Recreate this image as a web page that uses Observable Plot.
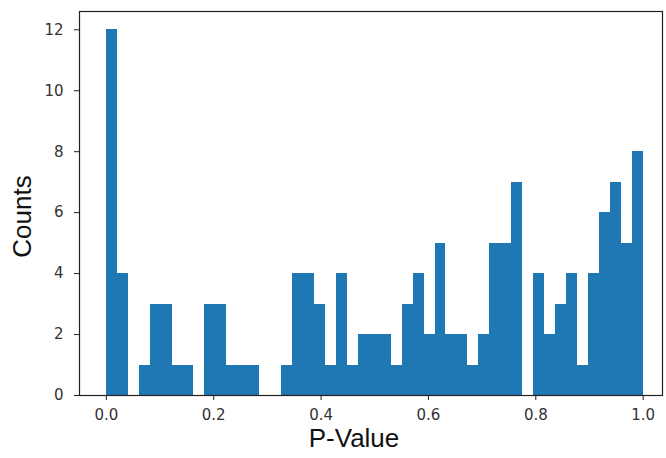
<!DOCTYPE html>
<html>
<head>
<meta charset="utf-8">
<script src="https://cdn.jsdelivr.net/npm/d3@7"></script>
<script src="https://cdn.jsdelivr.net/npm/@observablehq/plot@0.6"></script>
<style>
  html, body { margin: 0; padding: 0; background: #fff; }
</style>
</head>
<body>
<div id="chart"></div>
<script>
// Histogram counts, one per bin (49 equal bins spanning the p-value range 0..1)
const counts = [12,4,0,1,3,3,1,1,0,3,3,1,1,1,0,0,1,4,4,3,1,4,1,2,2,2,1,3,4,2,5,2,2,1,2,5,5,7,0,4,2,3,4,1,4,6,7,5,8];
const binStart = 0;
const binEnd = 1;
const xTicks = [0, 0.2, 0.4, 0.6, 0.8, 1.0];
const yTicks = [0, 2, 4, 6, 8, 10, 12];
const xLabel = "P-Value";
const yLabel = "Counts";

const binWidth = (binEnd - binStart) / counts.length;
const bins = counts.map((c, i) => ({
  x1: binStart + i * binWidth,
  x2: binStart + (i + 1) * binWidth,
  count: c
}));

const tickFont = "DejaVu Sans";
const labelFont = "Liberation Sans, Arial, sans-serif";

const chart = Plot.plot({
  width: 666,
  height: 458,
  marginLeft: 79,
  marginRight: 4,
  marginTop: 11,
  marginBottom: 63,
  style: { background: "#fff", overflow: "visible" },
  x: { domain: [-0.05, 1.036] },
  y: { domain: [0, 12.6] },
  marks: [
    Plot.rect(bins.filter(d => d.count > 0), {
      x1: "x1", x2: "x2", y1: 0, y2: "count",
      fill: "#1f77b4", inset: 0, shapeRendering: "crispEdges"
    }),
    Plot.axisX({
      ticks: xTicks, tickFormat: d3.format(".1f"),
      tickSize: 5, tickPadding: 9, fontSize: 15,
      fontFamily: tickFont, fill: "#333", stroke: "#222", label: null
    }),
    Plot.axisY({
      ticks: yTicks, tickFormat: d3.format("d"),
      tickSize: 5, tickPadding: 11, fontSize: 15,
      fontFamily: tickFont, fill: "#333", stroke: "#222", label: null
    }),
    Plot.frame({ stroke: "#222", strokeWidth: 1.2 }),
    Plot.text([yLabel], {
      frameAnchor: "left", dx: -57, dy: 13, rotate: -90,
      text: d => d, fontSize: 26, fontFamily: labelFont,
      fill: "#111", lineAnchor: "middle", textAnchor: "middle"
    }),
    Plot.text([xLabel], {
      frameAnchor: "bottom", dx: -17, dy: 43,
      text: d => d, fontSize: 26, fontFamily: labelFont,
      fill: "#111", lineAnchor: "middle", textAnchor: "middle"
    })
  ]
});

document.getElementById("chart").appendChild(chart);
</script>
</body>
</html>
